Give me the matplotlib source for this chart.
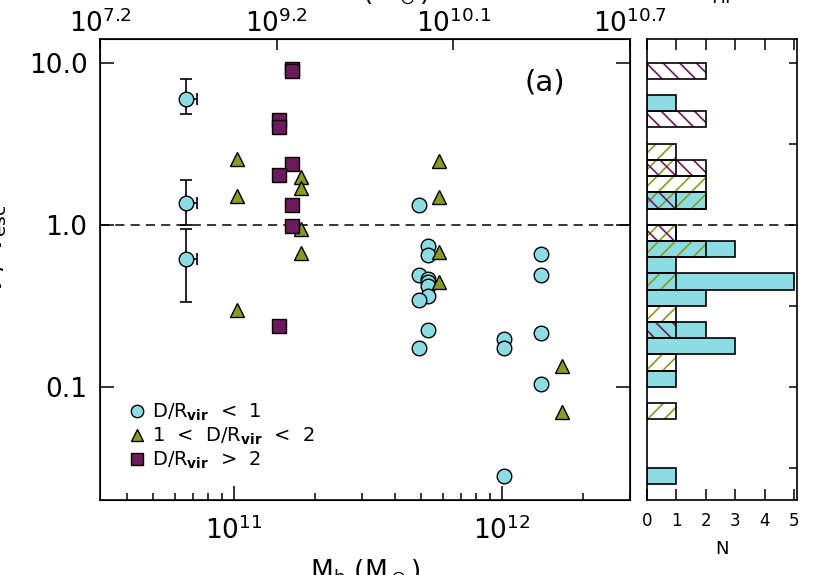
import numpy as np
import matplotlib
matplotlib.use('Agg')
import matplotlib.pyplot as plt
from matplotlib.ticker import NullFormatter

# D/R_vir < 1  (halo mass, v/v_esc)
mh_in = [6.62e10, 6.62e10, 6.62e10, 4.88e11, 5.31e11, 5.31e11, 4.88e11, 5.31e11, 5.31e11,
         5.31e11, 5.31e11, 4.88e11, 5.31e11, 4.88e11, 1.02e12, 1.02e12, 1.02e12,
         1.40e12, 1.40e12, 1.40e12, 1.40e12]
v_in = [6.0, 1.36, 0.617, 1.32, 0.735, 0.653, 0.491, 0.462, 0.44,
        0.416, 0.365, 0.344, 0.225, 0.173, 0.196, 0.174, 0.028,
        0.662, 0.49, 0.214, 0.104]
# error bars on the first three points
err_lo = [4.82, 0.99, 0.335]
err_hi = [7.93, 1.88, 0.944]
xerr_hi = [6.4e9, 6.4e9, 6.4e9]

# 1 < D/R_vir < 2
mh_mid = [1.03e11, 1.03e11, 1.03e11, 1.77e11, 1.77e11, 1.77e11, 1.77e11,
          5.82e11, 5.82e11, 5.82e11, 5.82e11, 1.67e12, 1.67e12]
v_mid = [2.55, 1.5, 0.296, 1.96, 1.68, 0.94, 0.668,
         2.46, 1.48, 0.68, 0.44, 0.135, 0.0695]

# D/R_vir > 2
mh_out = [1.65e11, 1.65e11, 1.47e11, 1.47e11, 1.65e11, 1.47e11, 1.65e11, 1.65e11, 1.47e11]
v_out = [9.1, 8.85, 4.45, 4.03, 2.37, 2.02, 1.32, 0.976, 0.236]

top_exp = ['7.2', '9.2', '10.1', '10.7']

cyan = '#8cdce3'
green = '#8a9a22'
purple = '#6b1a5b'

plt.rcParams['font.family'] = 'DejaVu Sans'
plt.rcParams['hatch.linewidth'] = 1.2

fig = plt.figure(figsize=(8.3, 5.75), dpi=100)
ax = fig.add_axes([100/830, 75/575, 530/830, 461/575])
hax = fig.add_axes([647/830, 75/575, 150/830, 461/575])

xmin, xmax = 10**10.5, 3e12
ymin, ymax = 0.02, 14

# main panel
ax.axhline(1.0, ls='--', color='k', lw=1.1, dashes=(6, 4), zorder=1)
ax.errorbar(mh_in[:3], v_in[:3], yerr=[np.array(v_in[:3]) - err_lo, np.array(err_hi) - v_in[:3]],
            xerr=[[0, 0, 0], xerr_hi], fmt='none', ecolor='k', elinewidth=1.2,
            capsize=4, capthick=1.2, zorder=2)
ax.plot(mh_in, v_in, 'o', ms=10.5, mfc=cyan, mec='k', mew=1.0, ls='none', zorder=3,
        label=r'D/R$_{\bf vir}$  <  1')
ax.plot(mh_mid, v_mid, '^', ms=10.5, mfc=green, mec='k', mew=1.0, ls='none', zorder=3,
        label=r'1  <  D/R$_{\bf vir}$  <  2')
ax.plot(mh_out, v_out, 's', ms=10, mfc=purple, mec='k', mew=1.0, ls='none', zorder=3,
        label=r'D/R$_{\bf vir}$  >  2')

ax.set_xscale('log')
ax.set_yscale('log')
ax.set_xlim(xmin, xmax)
ax.set_ylim(ymin, ymax)
ax.set_yticks([0.1, 1, 10])
ax.set_yticklabels(['0.1', '1.0', '10.0'])
ax.yaxis.set_minor_formatter(NullFormatter())
ax.xaxis.set_minor_formatter(NullFormatter())
ax.tick_params(which='both', direction='in', top=False, right=True, width=1.1)
ax.tick_params(which='major', length=10, labelsize=19)
ax.tick_params(axis='y', which='major', pad=9)
ax.tick_params(axis='x', which='major', pad=12)
ax.tick_params(which='minor', length=5)
for s in ax.spines.values():
    s.set_linewidth(1.2)

ax.text(445/530, (500 - 82)/461, '(a)', transform=ax.transAxes,
        ha='center', va='center', fontsize=21)

leg = ax.legend(loc='upper left', bbox_to_anchor=(28/530, 0.214), frameon=False,
                fontsize=14, markerscale=0.85, handlelength=0.9, handletextpad=0.35,
                borderpad=0, borderaxespad=0, labelspacing=0.15)

# top axis (stellar mass)
axt = ax.twiny()
axt.set_xscale('log')
axt.set_xlim(xmin, xmax)
axt.set_xticks(10**np.linspace(np.log10(xmin), np.log10(xmax), 4))
axt.set_xticklabels([r'10$^{%s}$' % e for e in top_exp])
axt.minorticks_off()
axt.tick_params(direction='in', length=8, width=1.1, labelsize=19, pad=1)

fig.text(372/830, 1.0, r'M$_*$ (M$_\odot$)', ha='center', va='baseline', fontsize=19)
fig.text(688/830, 1.0, r'M$_{\rm HI}$', ha='left', va='baseline', fontsize=19)
fig.text(365/830, -4/575, r'M$_{\rm h}$ (M$_\odot$)', ha='center', va='baseline', fontsize=19)
fig.text(3/830, 1 - 249/575, r'v / v$_{\rm esc}$', rotation=90, rotation_mode='anchor',
         ha='center', va='baseline', fontsize=19)

# histogram panel
edges = np.arange(-17, 13) / 10.0
centers = edges[:-1] + 0.05
n_in, _ = np.histogram(np.log10(v_in), edges)
n_mid, _ = np.histogram(np.log10(v_mid), edges)
n_out, _ = np.histogram(np.log10(v_out), edges)

hax.axhline(0, ls='--', color='k', lw=1.1, dashes=(6, 4), zorder=0.5)
m = n_in > 0
hax.barh(centers[m], n_in[m], height=0.1, color=cyan, edgecolor='k', lw=1.2, zorder=1)
m = n_mid > 0
hax.barh(centers[m], n_mid[m], height=0.1, fill=False, hatch='//', edgecolor=green, lw=0, zorder=2)
hax.barh(centers[m], n_mid[m], height=0.1, fill=False, edgecolor='k', lw=1.2, zorder=3)
m = n_out > 0
hax.barh(centers[m], n_out[m], height=0.1, fill=False, hatch='\\\\', edgecolor=purple, lw=0, zorder=2)
hax.barh(centers[m], n_out[m], height=0.1, fill=False, edgecolor='k', lw=1.2, zorder=3)

hax.set_xlim(0, 5.1)
hax.set_ylim(np.log10(ymin), np.log10(ymax))
hax.set_xticks(range(6))
hax.set_yticks([-1.5, -1, -0.5, 0, 0.5, 1])
hax.yaxis.tick_right()
hax.set_yticklabels([])
hax.tick_params(axis='x', direction='in', top=True, length=8, width=1.1, labelsize=12, pad=9)
hax.tick_params(axis='y', direction='in', length=6, width=1.1)
for s in hax.spines.values():
    s.set_linewidth(1.2)
fig.text(722/830, 1 - 549/575, 'N', ha='center', va='center', fontsize=13)

fig.savefig('out.png', dpi=100)
